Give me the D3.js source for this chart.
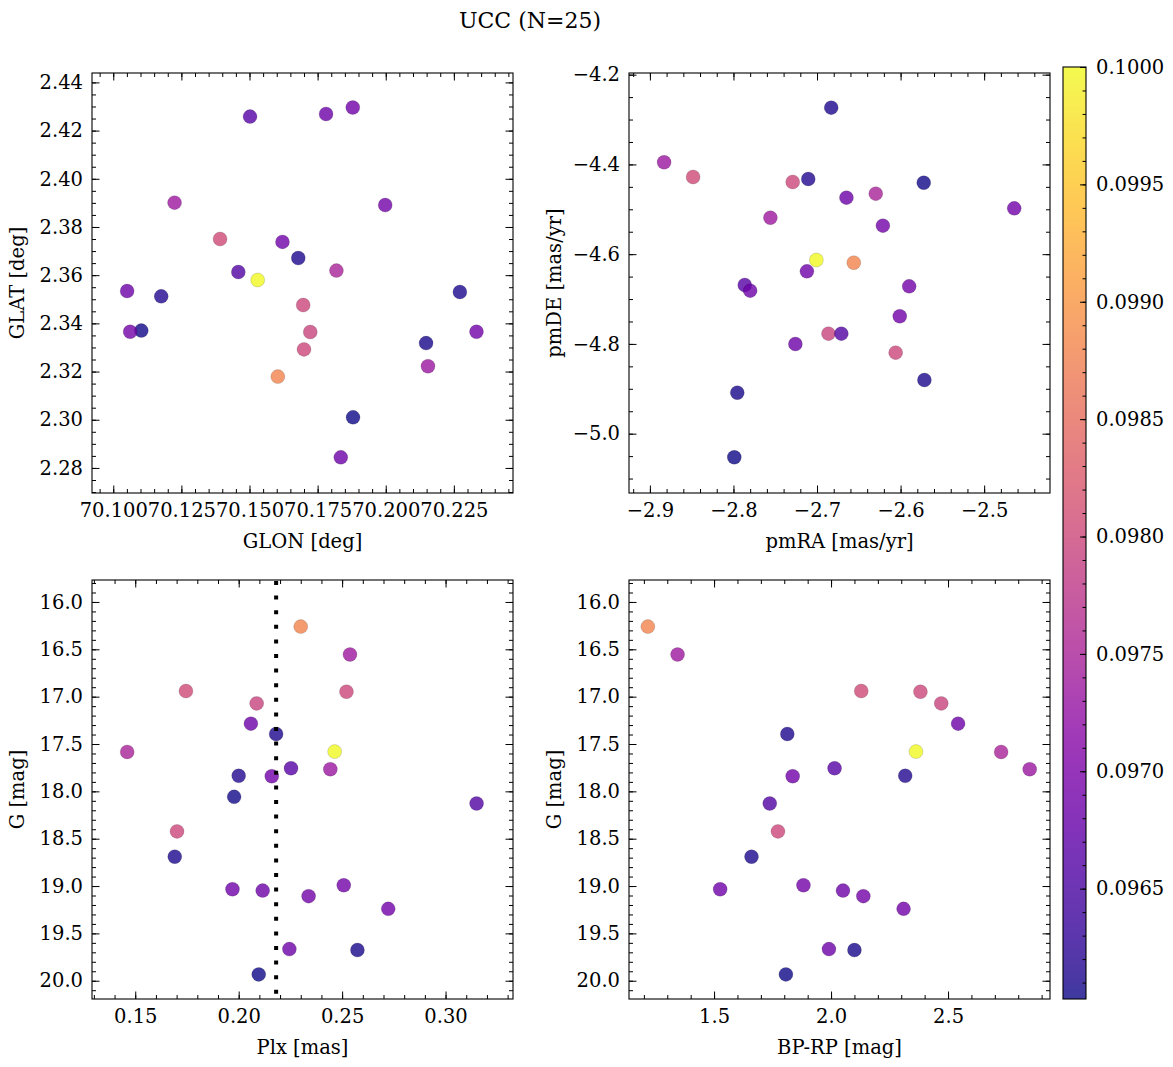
<!DOCTYPE html>
<html><head><meta charset="utf-8">
<script src="https://cdn.jsdelivr.net/npm/d3@7"></script>
<style>
body{margin:0;background:#fff}
text{font-family:"DejaVu Serif",serif;fill:#000}
</style>
</head><body>
<svg id="chart" width="1173" height="1067"></svg>
<script>
// ---- data (one entry per member star) ----
const starIds = ["a","b","c","d","e","f","g","h","i","j","k","l","m","n","o","p","q","r","s","t","u","v","w","x","y"];
const prob = [0.09880,0.09735,0.09805,0.09800,0.09795,0.09685,0.09612,0.09750,0.10000,0.09662,0.09732,0.09615,0.09688,0.09605,0.09658,0.09800,0.09610,0.09690,0.09686,0.09684,0.09690,0.09688,0.09685,0.09608,0.09603];
const glon = [70.1604,70.1225,70.1392,70.1697,70.1723,70.1781,70.1679,70.1819,70.1530,70.1502,70.2155,70.1176,70.1879,70.1103,70.1459,70.1700,70.2272,70.1998,70.1621,70.1051,70.1062,70.2333,70.1835,70.2148,70.1880];
const glat = [2.3179,2.3901,2.3750,2.3476,2.3364,2.4269,2.3671,2.3619,2.3580,2.4258,2.3222,2.3512,2.4296,2.3370,2.3613,2.3292,2.3530,2.3891,2.3738,2.3534,2.3365,2.3365,2.2844,2.3318,2.3010];
const pmra = [-2.656,-2.7558,-2.8483,-2.7291,-2.6863,-2.6648,-2.683,-2.6297,-2.7008,-2.7865,-2.883,-2.7105,-2.464,-2.5723,-2.6709,-2.6059,-2.5715,-2.6212,-2.7121,-2.780,-2.5897,-2.601,-2.7259,-2.7954,-2.799];
const pmde = [-4.619,-4.5187,-4.428,-4.4392,-4.7771,-4.4741,-4.2735,-4.4652,-4.613,-4.6687,-4.3953,-4.4325,-4.4979,-4.4407,-4.7771,-4.8195,-4.8804,-4.5365,-4.6383,-4.6813,-4.6717,-4.7385,-4.8002,-4.9087,-5.0527];
const plx  = [0.2300,0.2538,0.1745,0.2521,0.2087,0.2059,0.2181,0.1461,0.2464,0.2253,0.2443,0.2000,0.2160,0.1978,0.3150,0.1702,0.1691,0.2508,0.1970,0.2116,0.2338,0.2723,0.2245,0.2574,0.2097];
const gmag = [16.260,16.555,16.941,16.948,17.071,17.285,17.394,17.584,17.580,17.756,17.766,17.836,17.840,18.058,18.128,18.423,18.690,18.992,19.034,19.048,19.107,19.241,19.666,19.676,19.933];
const bprp = [1.217,1.344,2.129,2.382,2.471,2.543,1.813,2.727,2.363,2.015,2.849,2.317,1.836,null,1.738,1.773,1.660,1.882,1.526,2.051,2.138,2.310,1.991,2.100,1.807];
const plxMedian = 0.2181;
const titleText = "UCC (N=25)";

// tick labels
const glonTicks = [70.100,70.125,70.150,70.175,70.200,70.225];
const glatTicks = [2.28,2.30,2.32,2.34,2.36,2.38,2.40,2.42,2.44];
const pmraTicks = [-2.9,-2.8,-2.7,-2.6,-2.5];
const pmdeTicks = [-5.0,-4.8,-4.6,-4.4,-4.2];
const plxTicks  = [0.15,0.20,0.25,0.30];
const gTicks    = [16.0,16.5,17.0,17.5,18.0,18.5,19.0,19.5,20.0];
const bprpTicks = [1.5,2.0,2.5];
const cbTicks   = [0.0965,0.0970,0.0975,0.0980,0.0985,0.0990,0.0995,0.1000];

// ---- drawing ----
const svg = d3.select("#chart");
const FONT = 19.5, ALPHA = 0.8;
const cmin = d3.min(prob), cmax = d3.max(prob);
const color = d3.scaleSequential(d3.interpolatePlasma).domain([cmin, cmax]);

svg.append("text").attr("x", 530).attr("y", 20).attr("dy", "0.35em")
  .attr("text-anchor", "middle").style("font-size", "22px").text(titleText);

function minorVals(dom, step){
  const lo = Math.min(dom[0], dom[1]), hi = Math.max(dom[0], dom[1]);
  const out = [];
  for (let k = Math.ceil(lo/step - 1e-9); k <= Math.floor(hi/step + 1e-9); k++) out.push(+(k*step).toFixed(10));
  return out;
}
function styleAxis(g){
  g.select(".domain").remove();
  g.selectAll("line").attr("stroke", "#000").attr("stroke-width", 1);
  g.selectAll("text").style("font-family", '"DejaVu Serif",serif').style("font-size", FONT + "px").attr("fill", "#000");
  g.attr("font-family", null).attr("font-size", null);
}

function panel(cfg){
  const {x0,x1,y0,y1} = cfg;
  const x = d3.scaleLinear().domain(cfg.xDom).range([x0, x1]);
  const y = d3.scaleLinear().domain(cfg.yDom).range([y1, y0]);
  const g = svg.append("g");
  const MAJ = 7.5, MIN = 4;
  const xMin = minorVals(cfg.xDom, cfg.xMinor), yMin = minorVals(cfg.yDom, cfg.yMinor);
  g.append("g").attr("transform", `translate(0,${y1})`)
    .call(d3.axisBottom(x).tickValues(xMin).tickSize(-MIN).tickFormat("")).call(styleAxis);
  g.append("g").attr("transform", `translate(0,${y1})`)
    .call(d3.axisBottom(x).tickValues(cfg.xTicks).tickSize(-MAJ).tickPadding(10).tickFormat(d3.format(cfg.xFmt))).call(styleAxis);
  g.append("g").attr("transform", `translate(0,${y0})`)
    .call(d3.axisTop(x).tickValues(xMin).tickSize(-MIN).tickFormat("")).call(styleAxis);
  g.append("g").attr("transform", `translate(0,${y0})`)
    .call(d3.axisTop(x).tickValues(cfg.xTicks).tickSize(-MAJ).tickFormat("")).call(styleAxis);
  g.append("g").attr("transform", `translate(${x0},0)`)
    .call(d3.axisLeft(y).tickValues(yMin).tickSize(-MIN).tickFormat("")).call(styleAxis);
  g.append("g").attr("transform", `translate(${x0},0)`)
    .call(d3.axisLeft(y).tickValues(cfg.yTicks).tickSize(-MAJ).tickPadding(9).tickFormat(d3.format(cfg.yFmt))).call(styleAxis);
  g.append("g").attr("transform", `translate(${x1},0)`)
    .call(d3.axisRight(y).tickValues(yMin).tickSize(-MIN).tickFormat("")).call(styleAxis);
  g.append("g").attr("transform", `translate(${x1},0)`)
    .call(d3.axisRight(y).tickValues(cfg.yTicks).tickSize(-MAJ).tickFormat("")).call(styleAxis);

  const idx = d3.range(starIds.length).filter(i => cfg.xs[i] != null && cfg.ys[i] != null);
  g.append("g").selectAll("circle").data(idx).join("circle")
    .attr("cx", i => x(cfg.xs[i])).attr("cy", i => y(cfg.ys[i])).attr("r", 7)
    .attr("fill", i => color(prob[i])).attr("fill-opacity", ALPHA)
    .attr("stroke", "#000").attr("stroke-opacity", 0.35).attr("stroke-width", 0.4);

  if (cfg.vline != null){
    g.append("line").attr("x1", x(cfg.vline)).attr("x2", x(cfg.vline))
      .attr("y1", y0 + 1).attr("y2", y1)
      .attr("stroke", "#000").attr("stroke-width", 4).attr("stroke-dasharray", "4,10.6");
  }
  g.append("rect").attr("x", x0).attr("y", y0).attr("width", x1 - x0).attr("height", y1 - y0)
    .attr("fill", "none").attr("stroke", "#000").attr("stroke-width", 1.1);
  g.append("text").attr("x", (x0 + x1) / 2).attr("y", y1 + 55).attr("text-anchor", "middle")
    .style("font-size", FONT + "px").text(cfg.xLabel);
  g.append("text").attr("transform", `translate(${x0 - 75},${(y0 + y1) / 2}) rotate(-90)`)
    .attr("text-anchor", "middle").attr("dy", "0.35em").style("font-size", FONT + "px").text(cfg.yLabel);
}

panel({x0:92, x1:513, y0:73, y1:493, xDom:[70.0922,70.2467], yDom:[2.2696,2.4439],
  xTicks:glonTicks, yTicks:glatTicks, xMinor:0.005, yMinor:0.005, xFmt:".3f", yFmt:".2f",
  xLabel:"GLON [deg]", yLabel:"GLAT [deg]", xs:glon, ys:glat});
panel({x0:629, x1:1050, y0:73, y1:493, xDom:[-2.925,-2.4212], yDom:[-5.1322,-4.1963],
  xTicks:pmraTicks, yTicks:pmdeTicks, xMinor:0.02, yMinor:0.05, xFmt:".1f", yFmt:".1f",
  xLabel:"pmRA [mas/yr]", yLabel:"pmDE [mas/yr]", xs:pmra, ys:pmde});
panel({x0:92, x1:513, y0:580, y1:999, xDom:[0.1291,0.3326], yDom:[20.193,15.768],
  xTicks:plxTicks, yTicks:gTicks, xMinor:0.01, yMinor:0.1, xFmt:".2f", yFmt:".1f",
  xLabel:"Plx [mas]", yLabel:"G [mag]", xs:plx, ys:gmag, vline:plxMedian});
panel({x0:629, x1:1050, y0:580, y1:999, xDom:[1.1364,2.9358], yDom:[20.193,15.768],
  xTicks:bprpTicks, yTicks:gTicks, xMinor:0.1, yMinor:0.1, xFmt:".1f", yFmt:".1f",
  xLabel:"BP-RP [mag]", yLabel:"G [mag]", xs:bprp, ys:gmag});

// colorbar
const cb = {x0:1063, x1:1086, y0:67, y1:999};
const defs = svg.append("defs");
const grad = defs.append("linearGradient").attr("id", "cbgrad")
  .attr("x1", 0).attr("y1", 1).attr("x2", 0).attr("y2", 0);
d3.range(0, 1.0001, 0.02).forEach(t => {
  grad.append("stop").attr("offset", t).attr("stop-color", d3.interpolatePlasma(t)).attr("stop-opacity", ALPHA);
});
svg.append("rect").attr("x", cb.x0).attr("y", cb.y0).attr("width", cb.x1 - cb.x0).attr("height", cb.y1 - cb.y0)
  .attr("fill", "url(#cbgrad)");
const cy = d3.scaleLinear().domain([cmin, cmax]).range([cb.y1, cb.y0]);
svg.append("g").attr("transform", `translate(${cb.x1},0)`)
  .call(d3.axisRight(cy).tickValues(minorVals([cmin, cmax], 0.0001)).tickSize(-3.5).tickFormat("")).call(styleAxis);
svg.append("g").attr("transform", `translate(${cb.x1},0)`)
  .call(d3.axisRight(cy).tickValues(cbTicks).tickSize(-6).tickPadding(10).tickFormat(d3.format(".4f"))).call(styleAxis);
svg.append("rect").attr("x", cb.x0).attr("y", cb.y0).attr("width", cb.x1 - cb.x0).attr("height", cb.y1 - cb.y0)
  .attr("fill", "none").attr("stroke", "#000").attr("stroke-width", 1.1);
</script>
</body></html>
